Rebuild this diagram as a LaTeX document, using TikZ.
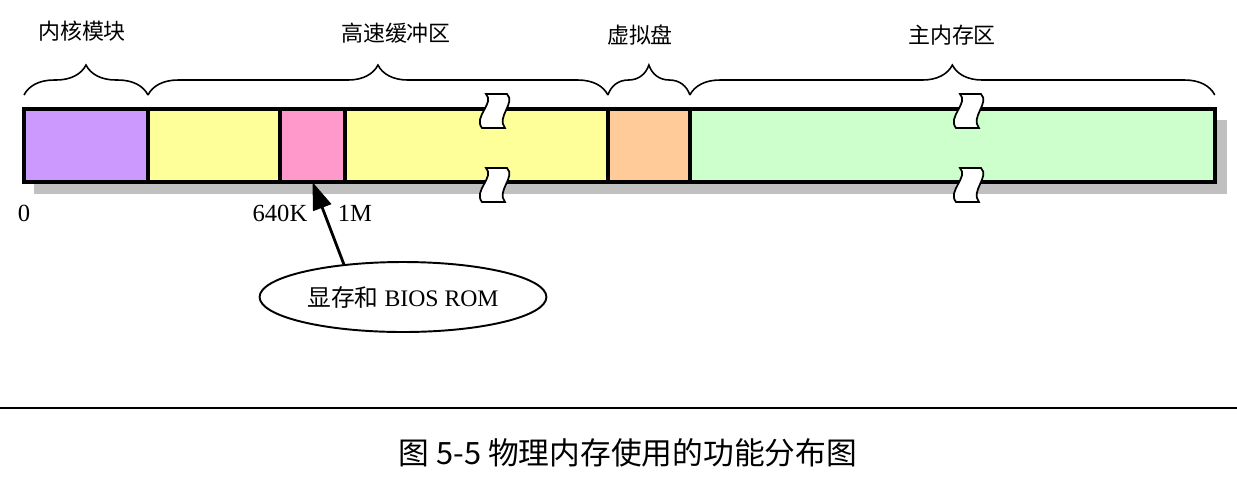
\documentclass[tikz,border=0pt]{standalone}
\usepackage{fontspec}
\setmainfont{Liberation Serif}
\newfontfamily\cjk{Noto Sans CJK SC}
\usepackage{xcolor}
\usetikzlibrary{shapes.geometric, arrows.meta, positioning, decorations.pathreplacing}
\definecolor{kernpurple}{HTML}{CC99FF}
\definecolor{bufyellow}{HTML}{FFFF99}
\definecolor{rompink}{HTML}{FF99CC}
\definecolor{diskorange}{HTML}{FFCC99}
\definecolor{memgreen}{HTML}{CCFFCC}
\definecolor{shadowgray}{HTML}{C0C0C0}

\begin{document}
\begin{tikzpicture}[x=0.02cm, y=-0.02cm,
  seg/.style={rectangle, draw=black, line width=2pt, minimum height=1.46cm, outer sep=0pt, inner sep=0pt},
  area/.style={font=\cjk\fontsize{12.5}{14}\selectfont},
  addrlabel/.style={font=\fontsize{14}{16}\selectfont, inner sep=0pt},
  bracetop/.style={decorate, decoration={brace, amplitude=0.6cm, raise=0.28cm}, line width=0.9pt},
  note/.style={ellipse, draw=black, line width=1.1pt, minimum width=5.6cm, minimum height=1.4cm, font=\fontsize{13.5}{16}\selectfont},
  arrow/.style={-{Triangle[length=5.5mm, width=3.8mm]}, line width=1.6pt},
  brk/.pic={\filldraw[fill=white, draw=black, line width=1pt]
    (-8,-17) -- (13,-17) .. controls (22,-8) and (2,6) .. (11,17) -- (-12,17)
    .. controls (-21,6) and (1,-8) .. (-8,-17) -- cycle;}
]
\useasboundingbox (0,0) rectangle (1237,488);

% shadow behind the bar
\fill[shadowgray] (34,120) rectangle (1227,194);

% memory segments
\node[seg, fill=kernpurple, minimum width=2.48cm] (kern) at (86,145.5) {};
\node[seg, fill=bufyellow, minimum width=2.64cm, right=0pt of kern] (buf1) {};
\node[seg, fill=rompink, minimum width=1.30cm, right=0pt of buf1] (vram) {};
\node[seg, fill=bufyellow, minimum width=5.26cm, right=0pt of vram] (buf2) {};
\node[seg, fill=diskorange, minimum width=1.64cm, right=0pt of buf2] (rdisk) {};
\node[seg, fill=memgreen, minimum width=10.5cm, right=0pt of rdisk] (mem) {};

% breaks
\pic at (494,111) {brk};
\pic at (494,185) {brk};
\pic at (968,111) {brk};
\pic at (968,185) {brk};

% braces
\draw[bracetop] (kern.north west) -- (kern.north east);
\draw[bracetop] (buf1.north west) -- (buf2.north east);
\draw[bracetop] (rdisk.north west) -- (rdisk.north east);
\draw[bracetop] (mem.north west) -- (mem.north east);

% area names
\node[area] (kernname) at (82,31) {内核模块};
\node[area] (bufname) at (396,33) {高速缓冲区};
\node[area] (diskname) at (640,35) {虚拟盘};
\node[area] (memname) at (952,35) {主内存区};

% addresses
\node[addrlabel, below=0.46cm of kern.south west] (addr0) {0};
\node[addrlabel, below=0.46cm of vram.south west] (addr640) {640K};
\node[addrlabel, below=0.46cm of vram.south east, xshift=0.2cm] (addr1m) {1M};

% ROM note
\node[note] (romnote) at (403,297) {{\cjk 显存和} BIOS ROM};
\draw[arrow] (romnote.151) -- (vram.south);

% caption
\draw[line width=1.6pt] (0,408) -- (1237,408);
\node[font=\cjk\fontsize{17.5}{20}\selectfont] (caption) at (628,453) {图 5-5 物理内存使用的功能分布图};
\end{tikzpicture}
\end{document}
